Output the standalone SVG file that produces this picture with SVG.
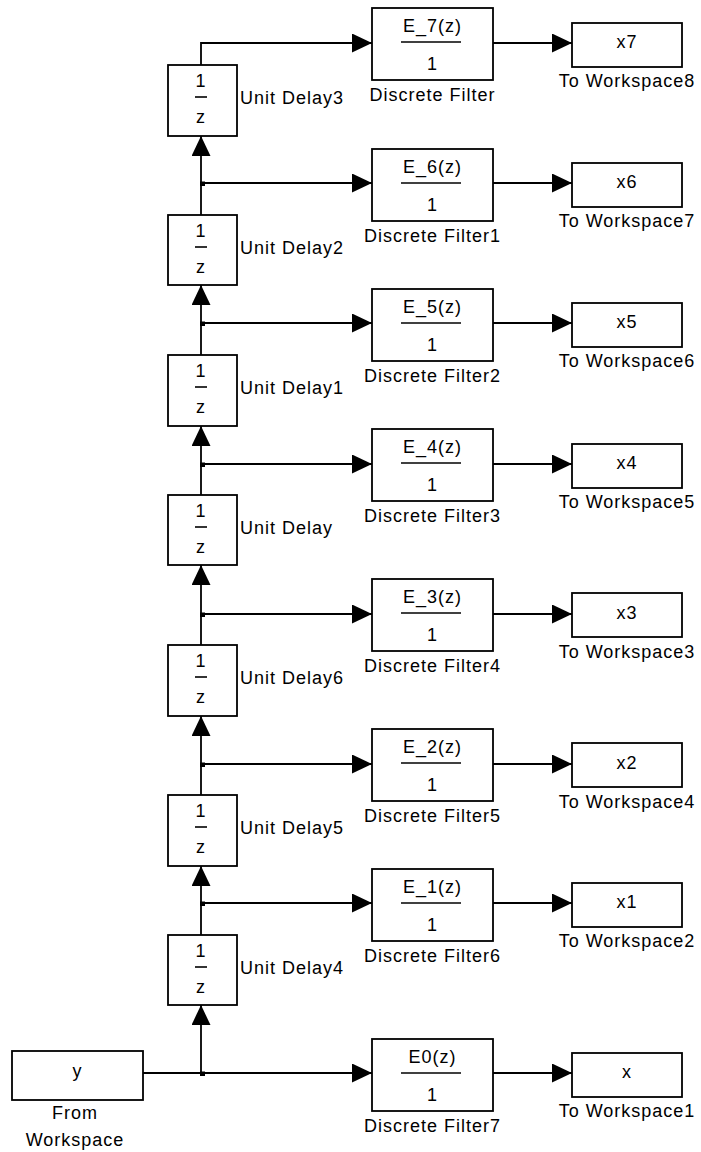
<svg xmlns="http://www.w3.org/2000/svg" width="701" height="1152" viewBox="0 0 701 1152">
<defs>
<style>
.blk{fill:#fff;stroke:#000;stroke-width:1.8}
.ln{fill:none;stroke:#000;stroke-width:1.8}
.bar{stroke:#000;stroke-width:1.6}
text{font-family:"Liberation Sans",Arial,sans-serif;font-size:18px;fill:#000;letter-spacing:1px}
.c{text-anchor:middle}
.dot{fill:#000}
</style>
<marker id="ah" markerUnits="userSpaceOnUse" markerWidth="20" markerHeight="20" refX="20" refY="9.5" orient="auto">
<path d="M0,0 L20,9.5 L0,19 z" fill="#000"/>
</marker>
</defs>
<rect width="701" height="1152" fill="#fff"/>

<g id="connectors">
<path class="ln" d="M143,1073 H372" marker-end="url(#ah)"/>
<path class="ln" d="M201,1073 V1005" marker-end="url(#ah)"/>
<path class="ln" d="M201,935 V866" marker-end="url(#ah)"/>
<path class="ln" d="M201,795 V716" marker-end="url(#ah)"/>
<path class="ln" d="M201,645 V565" marker-end="url(#ah)"/>
<path class="ln" d="M201,495 V426" marker-end="url(#ah)"/>
<path class="ln" d="M201,355 V285" marker-end="url(#ah)"/>
<path class="ln" d="M201,215 V136" marker-end="url(#ah)"/>
<path class="ln" d="M201,65 V43 H372" marker-end="url(#ah)"/>
<path class="ln" d="M201,183 H372" marker-end="url(#ah)"/>
<path class="ln" d="M201,323 H372" marker-end="url(#ah)"/>
<path class="ln" d="M201,464 H372" marker-end="url(#ah)"/>
<path class="ln" d="M201,614 H372" marker-end="url(#ah)"/>
<path class="ln" d="M201,764 H372" marker-end="url(#ah)"/>
<path class="ln" d="M201,903 H372" marker-end="url(#ah)"/>
<path class="ln" d="M493,43 H572" marker-end="url(#ah)"/>
<path class="ln" d="M493,183 H572" marker-end="url(#ah)"/>
<path class="ln" d="M493,323 H572" marker-end="url(#ah)"/>
<path class="ln" d="M493,464 H572" marker-end="url(#ah)"/>
<path class="ln" d="M493,614 H572" marker-end="url(#ah)"/>
<path class="ln" d="M493,764 H572" marker-end="url(#ah)"/>
<path class="ln" d="M493,903 H572" marker-end="url(#ah)"/>
<path class="ln" d="M493,1073 H572" marker-end="url(#ah)"/>
<rect class="dot" x="200" y="181.5" width="5" height="4.5"/>
<rect class="dot" x="200" y="321.5" width="5" height="4.5"/>
<rect class="dot" x="200" y="462.5" width="5" height="4.5"/>
<rect class="dot" x="200" y="612.5" width="5" height="4.5"/>
<rect class="dot" x="200" y="762.5" width="5" height="4.5"/>
<rect class="dot" x="200" y="901.5" width="5" height="4.5"/>
<rect class="dot" x="200" y="1071.5" width="5" height="4.5"/>
</g>

<g id="from-workspace">
<rect class="blk" x="12" y="1051" width="131" height="49"/>
<text class="c" x="77.5" y="1077">y</text>
<text class="c" x="75" y="1119">From</text>
<text class="c" x="75" y="1146">Workspace</text>
</g>

<g id="unit-delay3">
<rect class="blk" x="168" y="65" width="69" height="71"/>
<text class="c" x="201" y="87">1</text>
<line class="bar" x1="195" y1="97" x2="207" y2="97"/>
<text class="c" x="201" y="123">z</text>
<text x="240" y="104">Unit Delay3</text>
</g>
<g id="unit-delay2">
<rect class="blk" x="168" y="215" width="69" height="70"/>
<text class="c" x="201" y="237">1</text>
<line class="bar" x1="195" y1="247" x2="207" y2="247"/>
<text class="c" x="201" y="273">z</text>
<text x="240" y="254">Unit Delay2</text>
</g>
<g id="unit-delay1">
<rect class="blk" x="168" y="355" width="69" height="71"/>
<text class="c" x="201" y="377">1</text>
<line class="bar" x1="195" y1="387" x2="207" y2="387"/>
<text class="c" x="201" y="413">z</text>
<text x="240" y="394">Unit Delay1</text>
</g>
<g id="unit-delay">
<rect class="blk" x="168" y="495" width="69" height="70"/>
<text class="c" x="201" y="517">1</text>
<line class="bar" x1="195" y1="527" x2="207" y2="527"/>
<text class="c" x="201" y="553">z</text>
<text x="240" y="534">Unit Delay</text>
</g>
<g id="unit-delay6">
<rect class="blk" x="168" y="645" width="69" height="71"/>
<text class="c" x="201" y="667">1</text>
<line class="bar" x1="195" y1="677" x2="207" y2="677"/>
<text class="c" x="201" y="703">z</text>
<text x="240" y="684">Unit Delay6</text>
</g>
<g id="unit-delay5">
<rect class="blk" x="168" y="795" width="69" height="71"/>
<text class="c" x="201" y="817">1</text>
<line class="bar" x1="195" y1="827" x2="207" y2="827"/>
<text class="c" x="201" y="853">z</text>
<text x="240" y="834">Unit Delay5</text>
</g>
<g id="unit-delay4">
<rect class="blk" x="168" y="935" width="69" height="70"/>
<text class="c" x="201" y="957">1</text>
<line class="bar" x1="195" y1="967" x2="207" y2="967"/>
<text class="c" x="201" y="993">z</text>
<text x="240" y="974">Unit Delay4</text>
</g>

<g id="discrete-filter">
<rect class="blk" x="372" y="8" width="121" height="72"/>
<text class="c" x="432.5" y="32">E_7(z)</text>
<line class="bar" x1="401" y1="42" x2="461" y2="42"/>
<text class="c" x="432.5" y="70">1</text>
<text class="c" x="432.5" y="101">Discrete Filter</text>
</g>
<g id="discrete-filter1">
<rect class="blk" x="372" y="149" width="121" height="72"/>
<text class="c" x="432.5" y="173">E_6(z)</text>
<line class="bar" x1="401" y1="183" x2="461" y2="183"/>
<text class="c" x="432.5" y="211">1</text>
<text class="c" x="432.5" y="242">Discrete Filter1</text>
</g>
<g id="discrete-filter2">
<rect class="blk" x="372" y="289" width="121" height="72"/>
<text class="c" x="432.5" y="313">E_5(z)</text>
<line class="bar" x1="401" y1="323" x2="461" y2="323"/>
<text class="c" x="432.5" y="351">1</text>
<text class="c" x="432.5" y="382">Discrete Filter2</text>
</g>
<g id="discrete-filter3">
<rect class="blk" x="372" y="429" width="121" height="72"/>
<text class="c" x="432.5" y="453">E_4(z)</text>
<line class="bar" x1="401" y1="463" x2="461" y2="463"/>
<text class="c" x="432.5" y="491">1</text>
<text class="c" x="432.5" y="522">Discrete Filter3</text>
</g>
<g id="discrete-filter4">
<rect class="blk" x="372" y="579" width="121" height="72"/>
<text class="c" x="432.5" y="603">E_3(z)</text>
<line class="bar" x1="401" y1="613" x2="461" y2="613"/>
<text class="c" x="432.5" y="641">1</text>
<text class="c" x="432.5" y="672">Discrete Filter4</text>
</g>
<g id="discrete-filter5">
<rect class="blk" x="372" y="729" width="121" height="72"/>
<text class="c" x="432.5" y="753">E_2(z)</text>
<line class="bar" x1="401" y1="763" x2="461" y2="763"/>
<text class="c" x="432.5" y="791">1</text>
<text class="c" x="432.5" y="822">Discrete Filter5</text>
</g>
<g id="discrete-filter6">
<rect class="blk" x="372" y="869" width="121" height="72"/>
<text class="c" x="432.5" y="893">E_1(z)</text>
<line class="bar" x1="401" y1="903" x2="461" y2="903"/>
<text class="c" x="432.5" y="931">1</text>
<text class="c" x="432.5" y="962">Discrete Filter6</text>
</g>
<g id="discrete-filter7">
<rect class="blk" x="372" y="1039" width="121" height="72"/>
<text class="c" x="432.5" y="1063">E0(z)</text>
<line class="bar" x1="401" y1="1073" x2="461" y2="1073"/>
<text class="c" x="432.5" y="1101">1</text>
<text class="c" x="432.5" y="1132">Discrete Filter7</text>
</g>

<g id="to-workspace8">
<rect class="blk" x="572" y="23" width="110" height="44"/>
<text class="c" x="627" y="48">x7</text>
<text class="c" x="627" y="87">To Workspace8</text>
</g>
<g id="to-workspace7">
<rect class="blk" x="572" y="163" width="110" height="44"/>
<text class="c" x="627" y="188">x6</text>
<text class="c" x="627" y="227">To Workspace7</text>
</g>
<g id="to-workspace6">
<rect class="blk" x="572" y="303" width="110" height="44"/>
<text class="c" x="627" y="328">x5</text>
<text class="c" x="627" y="367">To Workspace6</text>
</g>
<g id="to-workspace5">
<rect class="blk" x="572" y="444" width="110" height="44"/>
<text class="c" x="627" y="469">x4</text>
<text class="c" x="627" y="508">To Workspace5</text>
</g>
<g id="to-workspace3">
<rect class="blk" x="572" y="593" width="110" height="44"/>
<text class="c" x="627" y="619">x3</text>
<text class="c" x="627" y="658">To Workspace3</text>
</g>
<g id="to-workspace4">
<rect class="blk" x="572" y="743" width="110" height="44"/>
<text class="c" x="627" y="769">x2</text>
<text class="c" x="627" y="808">To Workspace4</text>
</g>
<g id="to-workspace2">
<rect class="blk" x="572" y="883" width="110" height="44"/>
<text class="c" x="627" y="908">x1</text>
<text class="c" x="627" y="947">To Workspace2</text>
</g>
<g id="to-workspace1">
<rect class="blk" x="572" y="1053" width="110" height="44"/>
<text class="c" x="627" y="1078">x</text>
<text class="c" x="627" y="1117">To Workspace1</text>
</g>
</svg>
